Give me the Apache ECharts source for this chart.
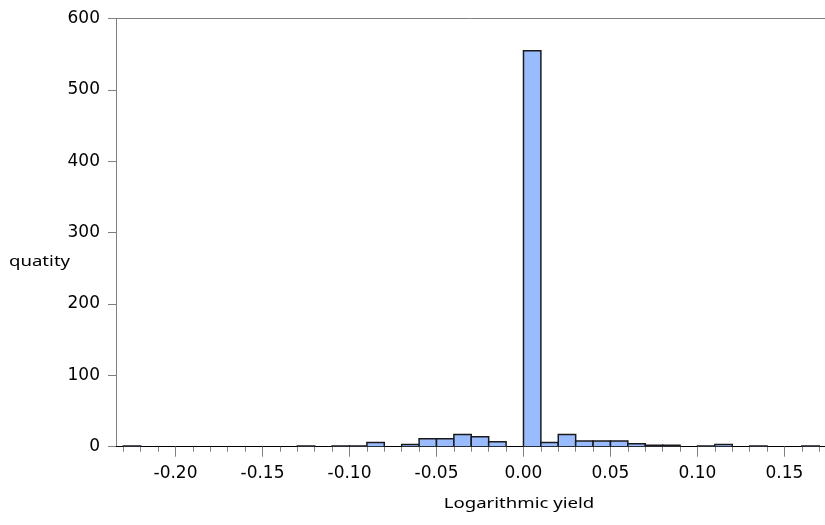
<!DOCTYPE html>
<html>
<head>
<meta charset="utf-8">
<title>Histogram of logarithmic yield</title>
<script src="https://cdn.jsdelivr.net/npm/echarts@6/dist/echarts.min.js"></script>
<style>
  html, body { margin: 0; padding: 0; background: #ffffff; }
  #chart { width: 825px; height: 525px; }
</style>
</head>
<body>
<div id="chart"></div>
<script>
// Histogram bins: left and right edges of each 0.01-wide bin, and the count in it.
const binLeft = [
  -0.23, -0.22, -0.21, -0.20, -0.19, -0.18, -0.17, -0.16, -0.15, -0.14,
  -0.13, -0.12, -0.11, -0.10, -0.09, -0.08, -0.07, -0.06, -0.05, -0.04,
  -0.03, -0.02, -0.01, 0.00, 0.01, 0.02, 0.03, 0.04, 0.05, 0.06,
  0.07, 0.08, 0.09, 0.10, 0.11, 0.12, 0.13, 0.14, 0.15, 0.16
];
const binRight = [
  -0.22, -0.21, -0.20, -0.19, -0.18, -0.17, -0.16, -0.15, -0.14, -0.13,
  -0.12, -0.11, -0.10, -0.09, -0.08, -0.07, -0.06, -0.05, -0.04, -0.03,
  -0.02, -0.01, 0.00, 0.01, 0.02, 0.03, 0.04, 0.05, 0.06, 0.07,
  0.08, 0.09, 0.10, 0.11, 0.12, 0.13, 0.14, 0.15, 0.16, 0.17
];
const counts = [
  1, 0, 0, 0, 0, 0, 0, 0, 0, 0,
  1, 0, 1, 1, 6, 0, 3, 11, 11, 17,
  14, 7, 0, 555, 6, 17, 8, 8, 8, 4,
  2, 2, 0, 1, 3, 0, 1, 0, 0, 1
];

// Axis ticks and labels
const xLabelValues = [-0.20, -0.15, -0.10, -0.05, 0.00, 0.05, 0.10, 0.15];
const xMinorTickValues = [
  -0.23, -0.22, -0.21, -0.20, -0.19, -0.18, -0.17, -0.16, -0.15, -0.14,
  -0.13, -0.12, -0.11, -0.10, -0.09, -0.08, -0.07, -0.06, -0.05, -0.04,
  -0.03, -0.02, -0.01, 0.00, 0.01, 0.02, 0.03, 0.04, 0.05, 0.06,
  0.07, 0.08, 0.09, 0.10, 0.11, 0.12, 0.13, 0.14, 0.15, 0.16, 0.17
];
const xMin = -0.2342;
const xMax = 0.1733;
const yMin = 0;
const yMax = 600;
const yStep = 100;

const xTitle = 'Logarithmic yield';
const yTitle = 'quatity';

const histData = binLeft.map((l, i) => [l, binRight[i], counts[i]]);

const numFont = '"DejaVu Sans", Verdana, sans-serif';
const titleFont = '"Noto Sans", "Open Sans", sans-serif';
const titleStretch = 1.24;

const chart = echarts.init(document.getElementById('chart'), null, { renderer: 'canvas' });

chart.setOption({
  animation: false,
  backgroundColor: '#ffffff',
  grid: { left: 116, right: 0, top: 18.7, bottom: 78.3, containLabel: false },
  xAxis: [
    {
      // bottom axis: line, minor ticks, labels
      type: 'value', min: xMin, max: xMax, position: 'bottom',
      axisLine: { show: true, onZero: false, lineStyle: { color: '#000000', width: 1 } },
      axisTick: { show: true, length: 5, customValues: xMinorTickValues, lineStyle: { color: '#808080' } },
      axisLabel: {
        show: true, customValues: xLabelValues, margin: 18,
        color: '#000000', fontFamily: numFont, fontSize: 17,
        formatter: v => v.toFixed(2)
      },
      splitLine: { show: false }
    },
    {
      // bottom axis: major ticks every 0.05
      type: 'value', min: xMin, max: xMax, position: 'bottom',
      axisLine: { show: false, onZero: false },
      axisTick: { show: true, length: 10, customValues: xLabelValues, lineStyle: { color: '#808080' } },
      axisLabel: { show: false },
      splitLine: { show: false }
    },
    {
      // top frame line
      type: 'value', min: xMin, max: xMax, position: 'top',
      axisLine: { show: true, onZero: false, lineStyle: { color: '#808080', width: 1 } },
      axisTick: { show: false },
      axisLabel: { show: false },
      splitLine: { show: false }
    }
  ],
  yAxis: {
    type: 'value', min: yMin, max: yMax, interval: yStep, position: 'left',
    axisLine: { show: true, onZero: false, lineStyle: { color: '#808080', width: 1 } },
    axisTick: { show: true, inside: false, length: 8, lineStyle: { color: '#808080' } },
    axisLabel: { margin: 16, color: '#000000', fontFamily: numFont, fontSize: 17 },
    splitLine: { show: false }
  },
  graphic: [
    {
      type: 'text', x: 9, y: 262, scaleX: titleStretch,
      style: { text: yTitle, font: '15px ' + titleFont, fill: '#000000', textVerticalAlign: 'middle', textAlign: 'left' }
    },
    {
      type: 'text', x: 519, y: 504, scaleX: titleStretch,
      style: { text: xTitle, font: '15px ' + titleFont, fill: '#000000', textVerticalAlign: 'middle', textAlign: 'center' }
    }
  ],
  series: [{
    type: 'custom',
    xAxisIndex: 0,
    yAxisIndex: 0,
    data: histData,
    encode: { x: [0, 1], y: 2 },
    clip: true,
    renderItem: function (params, api) {
      const n = api.value(2);
      if (!n) return null;
      const topLeft = api.coord([api.value(0), n]);
      const bottomRight = api.coord([api.value(1), 0]);
      return {
        type: 'rect',
        shape: {
          x: topLeft[0], y: topLeft[1],
          width: bottomRight[0] - topLeft[0],
          height: bottomRight[1] - topLeft[1]
        },
        style: { fill: '#99BBFF', stroke: '#1a1a1a', lineWidth: 1.5 }
      };
    }
  }]
});
</script>
</body>
</html>
